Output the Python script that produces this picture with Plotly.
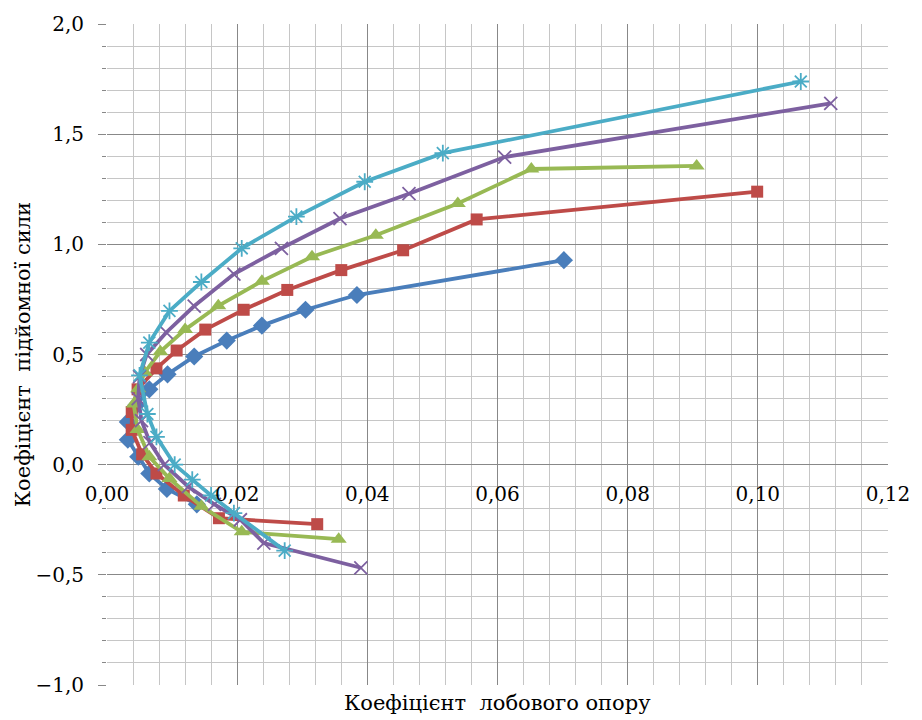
import plotly.graph_objects as go

# ---- data ----
blue_x = [0.0702, 0.0384, 0.0305, 0.0238, 0.0184, 0.0134, 0.0093, 0.0065, 0.0045, 0.0032, 0.0032, 0.0048, 0.0065, 0.0092, 0.0138]
blue_y = [0.928, 0.770, 0.703, 0.631, 0.563, 0.491, 0.410, 0.342, 0.270, 0.194, 0.113, 0.036, -0.040, -0.110, -0.180]

red_x = [0.0999, 0.0568, 0.0455, 0.0360, 0.0277, 0.0210, 0.0151, 0.0107, 0.0076, 0.0047, 0.0038, 0.0038, 0.0054, 0.0076, 0.0118, 0.0172, 0.0323]
red_y = [1.239, 1.113, 0.973, 0.883, 0.793, 0.703, 0.613, 0.518, 0.437, 0.342, 0.239, 0.158, 0.047, -0.040, -0.140, -0.243, -0.270]

green_x = [0.0906, 0.0652, 0.0539, 0.0413, 0.0315, 0.0238, 0.0171, 0.0120, 0.0082, 0.0058, 0.0048, 0.0041, 0.0047, 0.0065, 0.0096, 0.0145, 0.0207, 0.0356]
green_y = [1.356, 1.342, 1.185, 1.041, 0.944, 0.833, 0.721, 0.613, 0.513, 0.419, 0.345, 0.275, 0.160, 0.036, -0.063, -0.189, -0.305, -0.338]

purple_x = [0.1112, 0.0611, 0.0464, 0.0358, 0.0268, 0.0195, 0.0134, 0.0091, 0.0061, 0.0050, 0.0048, 0.0053, 0.0066, 0.0088, 0.0125, 0.0165, 0.0205, 0.0241, 0.0390]
purple_y = [1.640, 1.396, 1.230, 1.117, 0.982, 0.865, 0.720, 0.600, 0.500, 0.400, 0.300, 0.200, 0.100, 0.000, -0.100, -0.180, -0.250, -0.356, -0.468]

cyan_x = [0.1066, 0.0516, 0.0396, 0.0291, 0.0207, 0.0145, 0.0096, 0.0065, 0.0050, 0.0062, 0.0076, 0.0104, 0.0131, 0.0160, 0.0195, 0.0273]
cyan_y = [1.739, 1.414, 1.284, 1.126, 0.982, 0.829, 0.698, 0.554, 0.405, 0.230, 0.126, 0.000, -0.068, -0.140, -0.220, -0.390]

x_title = "Коефіцієнт\u00a0 лобового опору"
y_title = "Коефіцієнт\u00a0 підйомної сили"

FONT = "DejaVu Serif"

series = [
    (blue_x, blue_y, "#4A7EBB", dict(symbol="diamond", size=14)),
    (red_x, red_y, "#BE4B48", dict(symbol="square", size=12)),
    (green_x, green_y, "#98B954", dict(symbol="triangle-up", size=14)),
    (purple_x, purple_y, "#7D60A0", dict(symbol="x-thin-open", size=13, line=dict(width=1.8))),
    (cyan_x, cyan_y, "#4BACC6", dict(symbol="asterisk-open", size=14, line=dict(width=1.8))),
]

fig = go.Figure()
for xs, ys, col, mk in series:
    m = dict(color=col, **mk)
    if "line" in m:
        m["line"]["color"] = col
    fig.add_trace(go.Scatter(x=xs, y=ys, mode="lines+markers",
                             line=dict(color=col, width=3.8), marker=m,
                             showlegend=False, hoverinfo="x+y"))

fig.update_layout(
    width=922, height=720,
    margin=dict(l=107, r=25, t=19, b=35),
    paper_bgcolor="white", plot_bgcolor="white",
    separators=", ",
    font=dict(family=FONT, size=20, color="black"),
    xaxis=dict(
        range=[0, 0.12], tick0=0, dtick=0.02, tickformat=".2f",
        showgrid=True, gridcolor="#888888", gridwidth=1.3,
        minor=dict(dtick=0.004, showgrid=True, gridcolor="#c6c6c6", gridwidth=1.3),
        zeroline=False, showline=False, ticks="",
        anchor="free", position=1/3, ticklabelstandoff=15,
        tickfont=dict(family=FONT, size=20),
        fixedrange=True,
    ),
    yaxis=dict(
        range=[-1, 2], tick0=0, dtick=0.5, tickformat=".1f",
        showgrid=True, gridcolor="#888888", gridwidth=1.3,
        minor=dict(dtick=0.1, showgrid=True, gridcolor="#c6c6c6", gridwidth=1.3,
                   ticks="outside", ticklen=4, tickcolor="#888888"),
        zeroline=False, showline=False,
        ticks="outside", ticklen=8, tickcolor="#888888",
        ticklabelstandoff=10, domain=[0, 1],
        tickfont=dict(family=FONT, size=20),
        fixedrange=True,
    ),
    annotations=[
        dict(text=x_title, xref="paper", yref="paper", x=0.5, y=-0.027,
             xanchor="center", yanchor="middle", showarrow=False,
             font=dict(family=FONT, size=21)),
        dict(text=y_title, xref="paper", yref="paper", x=-0.108, y=0.5,
             xanchor="center", yanchor="middle", showarrow=False, textangle=-90,
             font=dict(family=FONT, size=21)),
    ],
)

fig.write_html("out.html")
